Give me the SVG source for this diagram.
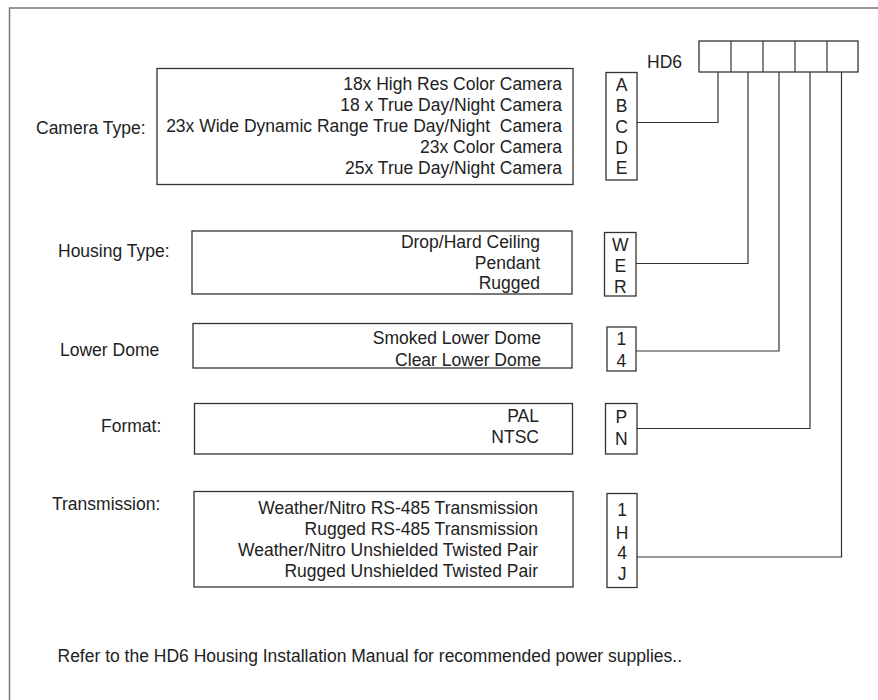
<svg xmlns="http://www.w3.org/2000/svg" width="878" height="700" viewBox="0 0 878 700">
<style>
.bx{fill:#fff;stroke:#333;stroke-width:1.3}
.ln{fill:none;stroke:#333;stroke-width:1.2}
.fr{fill:none;stroke:#777;stroke-width:1.5}
text{font-family:"Liberation Sans",Arial,sans-serif;font-size:17.5px;fill:#222}
.r{text-anchor:end}
.c{text-anchor:middle}
</style>
<rect width="878" height="700" fill="#fff"/>
<path class="fr" d="M9.5,700 V8 H878"/>
<g id="hd6">
<text x="647" y="68">HD6</text>
<rect class="bx" x="699" y="41" width="159" height="31"/>
<path class="ln" d="M731,41V72M763,41V72M795,41V72M827,41V72"/>
</g>
<g id="camera">
<text x="36" y="134">Camera Type:</text>
<rect class="bx" x="157" y="68.5" width="416" height="116"/>
<text class="r" x="562" y="90">18x High Res Color Camera</text>
<text class="r" x="562" y="111">18 x True Day/Night Camera</text>
<text class="r" x="562" y="132" xml:space="preserve">23x Wide Dynamic Range True Day/Night  Camera</text>
<text class="r" x="562" y="153">23x Color Camera</text>
<text class="r" x="562" y="174">25x True Day/Night Camera</text>
</g>
<g id="camera-codes">
<rect class="bx" x="606" y="72.5" width="31" height="107.5"/>
<text class="c" x="621.5" y="91">A</text>
<text class="c" x="621.5" y="112">B</text>
<text class="c" x="621.5" y="133">C</text>
<text class="c" x="621.5" y="154">D</text>
<text class="c" x="621.5" y="174">E</text>
</g>
<g id="housing">
<text x="58" y="257">Housing Type:</text>
<rect class="bx" x="192" y="231" width="380" height="63"/>
<text class="r" x="540" y="248">Drop/Hard Ceiling</text>
<text class="r" x="540" y="269">Pendant</text>
<text class="r" x="540" y="289">Rugged</text>
</g>
<g id="housing-codes">
<rect class="bx" x="604.5" y="232.5" width="31.5" height="63.5"/>
<text class="c" x="620.3" y="251">W</text>
<text class="c" x="620.3" y="272">E</text>
<text class="c" x="620.3" y="293">R</text>
</g>
<g id="dome">
<text x="60" y="356">Lower Dome</text>
<rect class="bx" x="193" y="323.5" width="379" height="44.5"/>
<text class="r" x="541" y="344">Smoked Lower Dome</text>
<text class="r" x="541" y="366">Clear Lower Dome</text>
</g>
<g id="dome-codes">
<rect class="bx" x="607" y="327" width="29" height="44"/>
<text class="c" x="621.3" y="344.5">1</text>
<text class="c" x="621.3" y="367">4</text>
</g>
<g id="format">
<text x="101" y="432">Format:</text>
<rect class="bx" x="194.5" y="403.5" width="378" height="50.5"/>
<text class="r" x="539" y="422">PAL</text>
<text class="r" x="539" y="443">NTSC</text>
</g>
<g id="format-codes">
<rect class="bx" x="605.5" y="403.5" width="31.5" height="50.5"/>
<text class="c" x="621.3" y="423">P</text>
<text class="c" x="621.3" y="444.5">N</text>
</g>
<g id="transmission">
<text x="52" y="509.5">Transmission:</text>
<rect class="bx" x="194" y="491.5" width="379" height="95.5"/>
<text class="r" x="538" y="514">Weather/Nitro RS-485 Transmission</text>
<text class="r" x="538" y="535">Rugged RS-485 Transmission</text>
<text class="r" x="538" y="556">Weather/Nitro Unshielded Twisted Pair</text>
<text class="r" x="538" y="577">Rugged Unshielded Twisted Pair</text>
</g>
<g id="transmission-codes">
<rect class="bx" x="607" y="493.5" width="30" height="94"/>
<text class="c" x="622" y="516">1</text>
<text class="c" x="622" y="538.5">H</text>
<text class="c" x="622" y="559">4</text>
<text class="c" x="622" y="580">J</text>
</g>
<g id="connectors">
<path class="ln" d="M637,122.5H718V72"/>
<path class="ln" d="M636,263.5H748V72"/>
<path class="ln" d="M636,351H779V72"/>
<path class="ln" d="M637,428.5H810V72"/>
<path class="ln" d="M637,557H841.5V72"/>
</g>
<g id="note">
<text x="57.5" y="662">Refer to the HD6 Housing Installation Manual for recommended power supplies..</text>
</g>
</svg>
